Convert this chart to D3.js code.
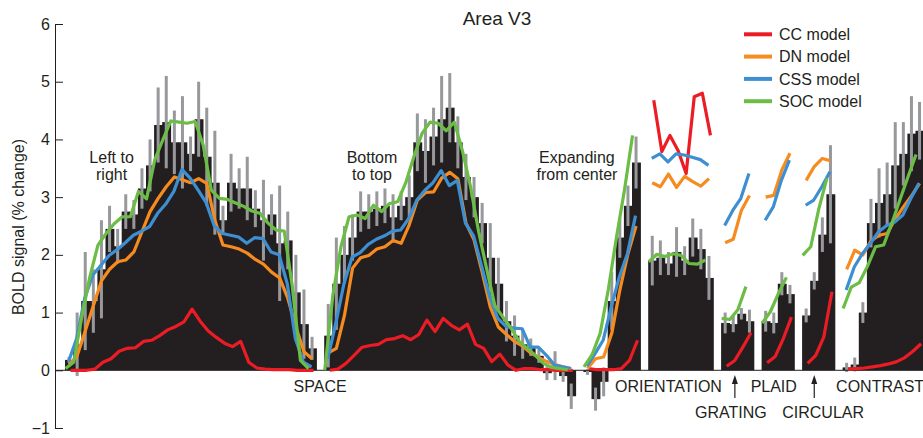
<!DOCTYPE html>
<html>
<head>
<meta charset="utf-8">
<script src="https://cdn.jsdelivr.net/npm/d3@7"></script>
<style>
  body { margin: 0; background: #fff; }
  svg { display: block; }
  text { font-family: "Liberation Sans", Arial, Helvetica, sans-serif; fill: #231f20; }
</style>
</head>
<body>
<svg id="chart" width="923" height="438"></svg>
<script>
// Stimulus groups, in display order: left-to-right sweep, bottom-to-top sweep,
// expanding from center, orientation, grating, plaid, circular, contrast
const groupSizes = [31, 31, 7, 8, 4, 4, 4, 10];

// Measured BOLD response (% change) per stimulus
const boldSignal = [
  0.18, 0.45, 1.2, 1.2, 1.75, 2.45, 2.15, 2.75, 2.7, 3.15, 3.55, 4.25, 4.3, 3.95, 3.95, 3.75,
  4.35, 3.7, 3.25, 2.6, 3.25, 3.15, 3.15, 2.8, 2.6, 2.7, 2.2, 2.25, 1.35, 0.8, 0.38,
  0.6, 1.5, 2.0, 2.3, 2.75, 2.75, 2.8, 2.85, 2.65, 2.85, 3.0, 3.95, 3.8, 4.05, 4.35, 4.55,
  3.95, 3.35, 3.0, 2.55, 1.95, 1.5, 0.85, 0.6, 0.45, 0.4, 0.25, -0.05, 0.08, -0.1, -0.45,
  -0.03, -0.5, -0.2, 1.2, 2.3, 2.85, 3.6,
  1.9, 1.95, 1.85, 2.05, 1.9, 2.3, 2.1, 1.6,
  0.82, 0.8, 0.98, 0.85,
  0.85, 0.82, 1.5, 1.32,
  0.95, 1.55, 2.35, 3.05,
  0.05, 0.1, 1.0, 2.55, 2.9, 3.05, 3.55, 3.75, 4.1, 4.15
];

// Half-length of the error bar per stimulus
const boldError = [
  0.05, 0.55, 0.85, 0.55, 0.85, 0.4, 0.3, 0.3, 0.25, 0.35, 0.45, 0.65, 0.8, 0.55, 0.8, 0.3,
  0.65, 0.85, 0.9, 0.25, 0.5, 0.35, 0.55, 0.32, 0.7, 0.35, 1.0, 0.5, 0.65, 0.6, 0.2,
  0.55, 0.8, 0.5, 0.4, 0.35, 0.3, 0.3, 0.3, 0.4, 0.25, 0.38, 0.5, 0.55, 0.5, 0.75, 0.6,
  0.45, 0.4, 0.35, 0.35, 0.6, 0.45, 0.35, 0.35, 0.25, 0.15, 0.12, 0.12, 0.25, 0.1, 0.22,
  0.05, 0.2, 0.25, 0.5, 0.35, 0.35, 0.45,
  0.43, 0.3, 0.2, 0.43, 0.25, 0.33, 0.35, 0.38,
  0.18, 0.14, 0.1, 0.2,
  0.18, 0.18, 0.2, 0.16,
  0.12, 0.15, 0.3, 0.85,
  0.08, 0.12, 0.18, 0.42, 0.6, 0.55, 0.75, 0.55, 0.65, 0.5
];

// Model predictions per stimulus
const ccModel = [
  0, 0, 0, 0.02, 0.14, 0.2, 0.33, 0.38, 0.39, 0.5, 0.52, 0.6, 0.7, 0.76, 0.84, 1.06,
  0.85, 0.68, 0.57, 0.47, 0.41, 0.5, 0.14, 0.04, 0.02, 0.01, 0.01, 0.01, 0, 0, 0,
  0, 0.02, 0.12, 0.26, 0.4, 0.43, 0.45, 0.53, 0.55, 0.6, 0.53, 0.62, 0.87, 0.67, 0.9, 0.78,
  0.7, 0.8, 0.45, 0.38, 0.15, 0.28, 0.09, 0, 0.03, 0.03, 0.01, 0.01, 0, 0, 0,
  0.03, 0.01, 0.01, 0.01, 0.03, 0.17, 0.52,
  4.68, 3.79, 4.07, 3.81, 3.41, 4.74, 4.8, 4.07,
  0.07, 0.17, 0.4, 0.65,
  0.13, 0.24, 0.55, 0.92,
  0.12, 0.26, 0.58, 1.36,
  0.02, 0.03, 0.04, 0.06, 0.08, 0.11, 0.15, 0.22, 0.33, 0.46
];
const dnModel = [
  0.1, 0.25, 0.68, 1.12, 1.55, 1.75, 1.88, 1.91, 2.05, 2.4, 2.75, 2.98, 3.18, 3.35, 3.3, 3.25,
  3.32, 3.24, 2.6, 2.17, 2.14, 2.1, 2.03, 1.92, 1.84, 1.7, 1.6, 1.25, 0.75, 0.32, 0.2,
  0.3, 0.38, 0.95, 1.77, 1.95, 1.99, 2.1, 2.14, 2.25, 2.2, 2.52, 2.95, 3.08, 3.09, 3.33, 3.43,
  3.32, 2.55, 2.26, 1.7, 1.1, 0.75, 0.62, 0.5, 0.42, 0.3, 0.22, 0.15, 0.1, 0.06, 0.03,
  0.03, 0.2, 0.23, 0.64, 1.39, 2.02, 2.5,
  3.25, 3.18, 3.4, 3.17, 3.36, 3.27, 3.19, 3.32,
  2.21, 2.27, 2.77, 3.03,
  3.0, 3.03, 3.47, 3.76,
  3.29, 3.53, 3.67, 3.63,
  1.75, 2.08, 2.0, 2.24, 2.34, 2.37, 2.62, 2.83, 3.02, 3.24
];
const cssModel = [
  0.15, 0.55, 1.25, 1.65, 1.82, 1.99, 2.09, 2.21, 2.34, 2.41, 2.49, 2.72, 2.88, 3.1, 3.48, 3.33,
  3.12, 2.9, 2.5, 2.37, 2.34, 2.31, 2.2, 2.3, 2.28, 2.05, 2.0, 1.5, 0.55, 0.14, 0.06,
  0.2, 0.82, 1.5, 1.96, 2.04, 2.18, 2.27, 2.33, 2.41, 2.43, 2.63, 2.95, 3.12, 3.25, 3.46, 3.2,
  3.29, 2.55, 2.33, 1.8, 1.27, 0.9, 0.76, 0.73, 0.72, 0.4, 0.4, 0.26, 0.09, 0.06, 0.03,
  0.07, 0.29, 0.52, 1.1, 1.62, 2.02, 2.68,
  3.67, 3.75, 3.61, 3.75, 3.73, 3.69, 3.65, 3.55,
  2.51, 2.77, 2.98, 3.41,
  2.6, 2.83, 3.29, 3.64,
  2.86, 2.95, 3.18, 3.44,
  1.39, 1.79, 2.02, 2.2, 2.4, 2.51, 2.57, 2.69, 2.98, 3.24
];
const socModel = [
  0.03, 0.14, 0.92, 1.62, 2.17, 2.37, 2.54, 2.66, 2.66, 3.1, 2.97, 3.64, 3.99, 4.32, 4.3, 4.28,
  4.31, 3.9, 3.12, 2.98, 2.96, 2.9, 2.84, 2.76, 2.72, 2.55, 2.43, 2.41, 1.45, 0.17, 0.03,
  0.0, 1.3, 2.14, 2.66, 2.69, 2.63, 2.86, 2.75, 2.89, 2.92, 3.25, 3.7, 4.1, 4.3, 4.28, 4.15,
  4.3, 3.8, 3.18, 2.4, 1.75, 1.12, 0.92, 0.73, 0.5, 0.38, 0.26, 0.12, 0.05, 0.03, 0.01,
  0.06, 0.27, 0.64, 1.39, 2.29, 3.12, 4.07,
  1.88, 2.01, 1.97, 2.02, 1.99, 1.85, 1.84, 1.91,
  0.9, 0.88, 1.05, 1.45,
  0.82, 1.01, 1.33, 1.61,
  1.99, 2.14, 2.8, 3.33,
  1.07, 1.44, 1.52, 1.8, 2.14, 2.17, 2.54, 2.95, 3.35, 3.74
];

const modelNames = ["CC model", "DN model", "CSS model", "SOC model"];
const yTicks = [-1, 0, 1, 2, 3, 4, 5, 6];
const sweepLabels = [["Left to", "right"], ["Bottom", "to top"], ["Expanding", "from center"]];
const categoryLabels = ["SPACE", "ORIENTATION", "PLAID", "CONTRAST"];
const arrowLabels = ["GRATING", "CIRCULAR"];

// ---- layout and styles ----
const width = 923, height = 438;
const models = [ccModel, dnModel, cssModel, socModel];
const modelColors = ["#ec1c24", "#f68b1f", "#3d8fd1", "#6cbd45"];
const modelShift = [1.5, 0, -0.5, -3.5];   // small horizontal stagger of each model trace
const barColor = "#231f20";
const errColor = "#97989b";

// one slot per stimulus, plus an empty slot after every group
const stimuli = [];
let slot = 0;
groupSizes.forEach((n, g) => {
  for (let j = 0; j < n; j++) { stimuli.push({ g, slot, idx: stimuli.length }); slot++; }
  slot++;
});

const x = d3.scaleLinear().domain([0, 106]).range([65, 923.6]);
const y = d3.scaleLinear().domain([-1, 6]).range([428, 24]);

const svg = d3.select("#chart");
svg.append("rect").attr("width", width).attr("height", height).attr("fill", "#fff");

// bars (slightly overlapped so neighbours join without seams)
svg.append("g").selectAll("rect").data(stimuli).join("rect")
  .attr("x", d => x(d.slot))
  .attr("width", d => x(d.slot + 1) - x(d.slot) + 0.8)
  .attr("y", d => y(Math.max(0, boldSignal[d.idx])))
  .attr("height", d => Math.abs(y(boldSignal[d.idx]) - y(0)))
  .attr("fill", barColor);

// error bars
svg.append("g").selectAll("rect").data(stimuli).join("rect")
  .attr("x", d => x(d.slot + 0.5) - 1.5)
  .attr("width", 3)
  .attr("y", d => y(boldSignal[d.idx] + boldError[d.idx]))
  .attr("height", d => y(boldSignal[d.idx] - boldError[d.idx]) - y(boldSignal[d.idx] + boldError[d.idx]))
  .attr("fill", errColor);

// zero line
svg.append("line")
  .attr("x1", 55).attr("x2", width)
  .attr("y1", y(0)).attr("y2", y(0))
  .attr("stroke", barColor).attr("stroke-width", 1);

// model traces, one segment per stimulus group
const lineGen = d3.line().x(p => p[0]).y(p => p[1]);
const traces = svg.append("g").attr("fill", "none")
  .attr("stroke-width", 3.2).attr("stroke-linejoin", "round");
models.forEach((vals, m) => {
  groupSizes.forEach((n, g) => {
    const pts = stimuli.filter(s => s.g === g)
      .map(s => [x(s.slot + 0.5) + modelShift[m], y(vals[s.idx])]);
    traces.append("path").attr("d", lineGen(pts)).attr("stroke", modelColors[m]);
  });
});

// y axis with inward ticks
const yAxis = d3.axisLeft(y).tickValues(yTicks).tickFormat(d3.format("d"))
  .tickSizeInner(-8).tickSizeOuter(0).tickPadding(5);
const ag = svg.append("g").attr("transform", "translate(55,0)").call(yAxis);
ag.select(".domain").attr("stroke", barColor);
ag.selectAll(".tick line").attr("stroke", barColor);
ag.selectAll(".tick text").attr("font-size", 16).attr("fill", barColor)
  .attr("font-family", "\"Liberation Sans\", Arial, Helvetica, sans-serif");

svg.append("text")
  .attr("transform", "translate(24,227) rotate(-90)")
  .attr("text-anchor", "middle").attr("font-size", 16)
  .text("BOLD signal (% change)");

// title
svg.append("text").attr("x", 497).attr("y", 25)
  .attr("text-anchor", "middle").attr("font-size", 19).text("Area V3");

// legend
modelNames.forEach((name, m) => {
  const ly = 34.3 + m * 22.3;
  svg.append("line").attr("x1", 744).attr("x2", 772).attr("y1", ly).attr("y2", ly)
    .attr("stroke", modelColors[m]).attr("stroke-width", 4);
  svg.append("text").attr("x", 779).attr("y", ly + 5.7).attr("font-size", 16).text(name);
});

// sweep annotations above the space groups
const sweepSlots = [5.75, 37.9, 63.2];
sweepLabels.forEach((lines, k) => {
  const t = svg.append("text").attr("text-anchor", "middle").attr("font-size", 16);
  lines.forEach((s, i) => {
    t.append("tspan").attr("x", x(sweepSlots[k])).attr("y", 163 + i * 17).text(s);
  });
});

// category labels under the axis
const catSlots = [31.5, 74.5, 87.5, 95.2];
const catAnchor = ["middle", "middle", "middle", "start"];
categoryLabels.forEach((s, i) => {
  svg.append("text").attr("x", x(catSlots[i])).attr("y", 391.5)
    .attr("text-anchor", catAnchor[i]).attr("font-size", 16).text(s);
});

// arrows pointing to the grating and circular groups
const arrowSlots = [82.7, 92.5];
const arrowTextSlots = [82.2, 93.6];
arrowLabels.forEach((s, i) => {
  const ax = x(arrowSlots[i]);
  svg.append("line").attr("x1", ax).attr("x2", ax).attr("y1", 381).attr("y2", 398)
    .attr("stroke", barColor).attr("stroke-width", 1.2);
  svg.append("path")
    .attr("d", `M${ax},375 L${ax - 3},384 L${ax + 3},384 Z`)
    .attr("fill", barColor);
  svg.append("text").attr("x", x(arrowTextSlots[i])).attr("y", 417.5)
    .attr("text-anchor", "middle").attr("font-size", 16).text(s);
});
</script>
</body>
</html>
